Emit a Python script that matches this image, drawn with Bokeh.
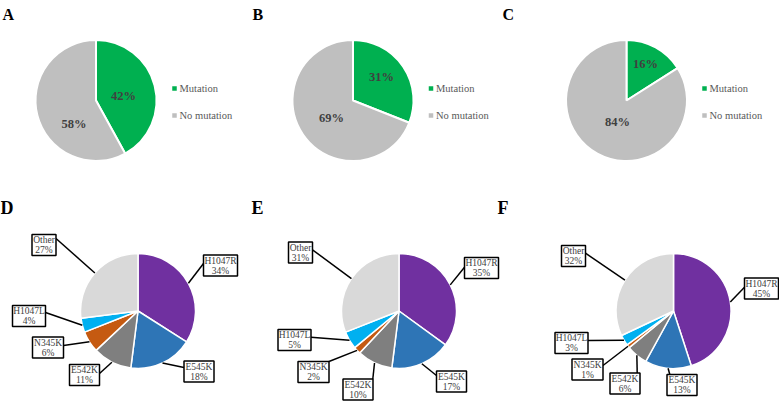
import math
from bokeh.plotting import figure
from bokeh.models import Range1d, ColumnDataSource
from bokeh.core.properties import value
from bokeh.embed import file_html
from bokeh.resources import INLINE

# ---------------- data ----------------
top_panels = ["A", "B", "C"]
top_categories = ["Mutation", "No mutation"]
mutation_pct = [42, 31, 16]
no_mutation_pct = [58, 69, 84]

bottom_panels = ["D", "E", "F"]
variants = ["H1047R", "E545K", "E542K", "N345K", "H1047L", "Other"]
d_pct = [34, 18, 11, 6, 4, 27]
e_pct = [35, 17, 10, 2, 5, 31]
f_pct = [45, 13, 6, 1, 3, 32]

# ---------------- layout / style (screen pixels) ----------------
W, H = 779, 401
FONT = value("Liberation Serif")
top_colors = ["#00B050", "#BFBFBF"]
var_colors = ["#7030A0", "#2E75B6", "#7F7F7F", "#C55A11", "#00B0F0", "#D9D9D9"]

top_centers = [(95.5, 100), (352.5, 100), (626, 100)]
top_r = 60.5
top_letter_x = [2, 252, 502]
top_lbl_off = [[(27.5, -4.5), (-22, 23.5)],
               [(28.5, -24), (-21.5, 17)],
               [(19, -37), (-9, 21)]]
legend_marker_x = [174, 430.5, 704]
legend_y = [88, 115]

bot_centers = [(137.5, 310.5), (398.5, 310.5), (673, 310.5)]
bot_r = 57.5
bot_letter_x = [0, 251, 497]
box_w = {"H1047R": 34, "E545K": 30, "E542K": 30, "N345K": 31, "H1047L": 33, "Other": 24}
box_h = 21
box_centers = [
    [(220, 265), (198.5, 371), (84, 374.5), (47.5, 347), (28.5, 315.5), (43.5, 244.5)],
    [(481, 267.5), (451, 381), (357.5, 389), (313, 371.5), (294, 339.5), (300, 252)],
    [(761, 288), (681.5, 384.5), (624.5, 383), (587, 369), (571, 342.5), (573, 255.5)],
]
leader_start = [
    [(203, 263), (183.5, 367), (99, 373), (63, 345), (45, 312), (55.5, 238)],
    [(464, 266.7), (436, 375), (372.3, 378.5), (328.5, 361), (310.5, 336.7), (312, 249.3)],
    [(744, 286.7), (669.3, 374), (636.7, 372.5), (602.5, 365), (587.5, 340), (585, 252.7)],
]


def Y(sy):
    return H - sy


p = figure(width=W, height=H, output_backend="svg", toolbar_location=None,
           x_range=Range1d(0, W), y_range=Range1d(0, H),
           x_axis_type=None, y_axis_type=None, min_border=0)
p.grid.visible = False
p.outline_line_color = None
p.background_fill_color = "white"


def pie(cx, cy, r, vals, colors, lw):
    total = float(sum(vals))
    starts, ends, mids = [], [], []
    c = 0.0
    for v in vals:
        c0 = c
        c += v / total
        starts.append(math.pi / 2 - 2 * math.pi * c0)
        ends.append(math.pi / 2 - 2 * math.pi * c)
        mids.append(math.pi / 2 - 2 * math.pi * (c0 + c) / 2)
    src = ColumnDataSource(dict(x=[cx] * len(vals), y=[Y(cy)] * len(vals),
                                s=starts, e=ends, color=colors))
    p.wedge(x="x", y="y", radius=r, start_angle="s", end_angle="e", direction="clock",
            fill_color="color", line_color="white", line_width=lw, source=src)
    return mids


# ---------------- top row ----------------
for i, panel in enumerate(top_panels):
    cx, cy = top_centers[i]
    vals = [mutation_pct[i], no_mutation_pct[i]]
    pie(cx, cy, top_r, vals, top_colors, 2)
    for j, v in enumerate(vals):
        dx, dy = top_lbl_off[i][j]
        p.text(x=[cx + dx], y=[Y(cy + dy)], text=[f"{v}%"], text_font=FONT,
               text_font_size="12.5px", text_font_style="bold", text_color="#404040",
               text_align="center", text_baseline="middle")
    p.text(x=[top_letter_x[i]], y=[Y(14)], text=[panel], text_font=FONT,
           text_font_size="16px", text_font_style="bold", text_color="black",
           text_align="left", text_baseline="alphabetic")
    for j, cat in enumerate(top_categories):
        mx = legend_marker_x[i]
        p.rect(x=[mx], y=[Y(legend_y[j])], width=4.5, height=4.5,
               fill_color=top_colors[j], line_color=None)
        p.text(x=[mx + 5], y=[Y(legend_y[j])], text=[cat], text_font=FONT,
               text_font_size="10.5px", text_color="#595959",
               text_align="left", text_baseline="middle")

# ---------------- bottom row ----------------
for i, (panel, vals) in enumerate(zip(bottom_panels, [d_pct, e_pct, f_pct])):
    cx, cy = bot_centers[i]
    mids = pie(cx, cy, bot_r, vals, var_colors, 1.5)
    for k, name in enumerate(variants):
        ex = cx + bot_r * math.cos(mids[k])
        ey = Y(cy) + bot_r * math.sin(mids[k])
        sx, sy = leader_start[i][k]
        p.segment(x0=[sx], y0=[Y(sy)], x1=[ex], y1=[ey], line_color="black", line_width=1.5)
    for k, name in enumerate(variants):
        bx, by = box_centers[i][k]
        p.rect(x=[bx], y=[Y(by)], width=box_w[name], height=box_h,
               fill_color="white", line_color="black", line_width=1.5)
        p.text(x=[bx], y=[Y(by - 4.8)], text=[name], text_font=FONT,
               text_font_size="9.5px", text_color="#404040",
               text_align="center", text_baseline="middle")
        p.text(x=[bx], y=[Y(by + 5.2)], text=[f"{vals[k]}%"], text_font=FONT,
               text_font_size="9.5px", text_color="#404040",
               text_align="center", text_baseline="middle")
    p.text(x=[bot_letter_x[i]], y=[Y(207)], text=[panel], text_font=FONT,
           text_font_size="18px", text_font_style="bold", text_color="black",
           text_align="left", text_baseline="alphabetic")

open("out.html", "w").write(file_html(p, INLINE))
